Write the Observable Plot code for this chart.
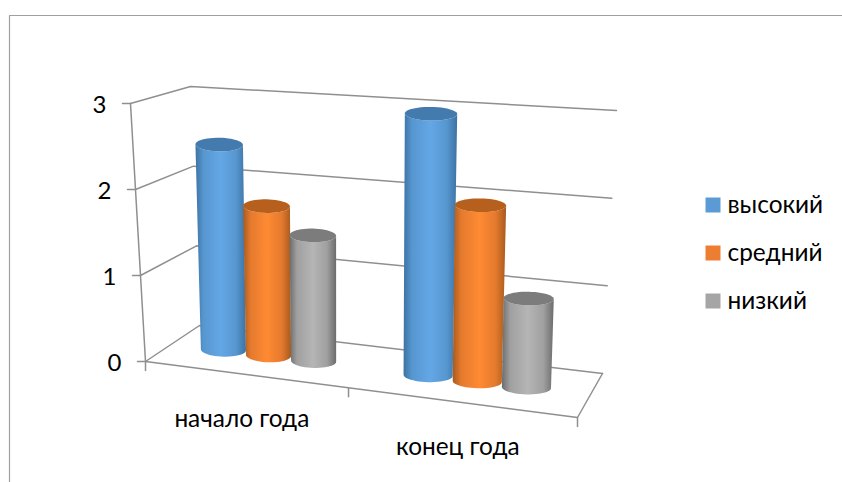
<!DOCTYPE html>
<html><head><meta charset="utf-8">
<style>html,body{margin:0;padding:0;background:#fff}svg{display:block}</style>
<script src="https://cdn.jsdelivr.net/npm/d3@7"></script>
<script src="https://cdn.jsdelivr.net/npm/@observablehq/plot@0.6"></script>
</head><body><script>
const categories = ["начало года", "конец года"];
const series = ["высокий", "средний", "низкий"];
const high = [2.5, 3];
const medium = [1.8, 2];
const low = [1.5, 1];
const seriesValues = [high, medium, low];
const valueTicks = [0, 1, 2, 3];
const swatch = ["#5b9bd5", "#ed7d31", "#a5a5a5"];
const shade = [
  {edge: "#3c72a3", mid: "#5797d0", light: "#63a7e6", cap: "#437bae"},
  {edge: "#a85a1e", mid: "#e57a2e", light: "#ff8a33", cap: "#b7601d"},
  {edge: "#6c6c6c", mid: "#a0a0a0", light: "#b5b5b5", cap: "#7c7c7c"}
];

// the 3D box of the chart: corners [left/right][front/back][floor/top]
const box = {
  fl: [[145, 361], [130, 103]], bl: [[199, 325], [190, 86]],
  fr: [[577, 417], [594, 136]], br: [[602, 373], [616, 110]]
};
const mix = (a, b, t) => [a[0] + (b[0] - a[0]) * t, a[1] + (b[1] - a[1]) * t];
const vScale = d3.scaleLinear([0, 3], [0, 1]);
const bandCenters = [0.23, 0.73];
const xTickU = [0, 0.47, 1];
const groupScale = [1, 1.09];
const heightScale = [0.98, 0.995];
function project(u, d, v) {
  const t = vScale(v);
  const left = mix(mix(box.fl[0], box.bl[0], d), mix(box.fl[1], box.bl[1], d), t);
  const right = mix(mix(box.fr[0], box.br[0], d), mix(box.fr[1], box.br[1], d), t);
  return mix(left, right, u);
}

const wire = [];
const pushPath = (id, pts) => pts.forEach(([x, y]) => wire.push({id, x, y}));
valueTicks.forEach((v) => {
  pushPath("wall" + v, [project(0, 0, v), project(0, 1, v), project(1, 1, v)]);
  const p = project(0, 0, v);
  pushPath("tick" + v, [p, [p[0] - 8, p[1]]]);
});
pushPath("front", [project(0, 0, 0), project(1, 0, 0), project(1, 1, 0)]);
pushPath("axis", [project(0, 0, 0), project(0, 0, 3)]);
xTickU.forEach((u, c) => {
  const p = project(u, 0, 0);
  pushPath("xt" + c, [p, [p[0], p[1] + 9]]);
});

const frame = [{id: "f", x: 9, y: 482}, {id: "f", x: 9, y: 15}, {id: "f", x: 842, y: 15}];

// cylinders
const step = 0.108, radius = 0.054, ry = 6.8, tilt = 0.2, depth = 0.5, lean = 0.6;
const bodies = [], caps = [];
const thetas = d3.range(0, 49).map((i) => (i / 48) * 2 * Math.PI);
const ring = (u, v, r) => {
  const a = project(u - r, depth, v), b = project(u + r, depth, v);
  const c = mix(a, b, 0.5), A = [(b[0] - a[0]) / 2, ((b[1] - a[1]) / 2) * tilt];
  const baseX = project(u, depth, 0)[0];
  const cx = baseX + (c[0] - baseX) * lean;
  return (th) => [cx + Math.cos(th) * A[0], c[1] + Math.cos(th) * A[1] + Math.sin(th) * ry];
};
categories.forEach((cat, c) => {
  series.forEach((s, i) => {
    const u = bandCenters[c] + (i - 1) * step * groupScale[c];
    const r = radius * groupScale[c];
    const val = seriesValues[i][c] * heightScale[c];
    const id = cat + s;
    const base = ring(u, 0, r), top = ring(u, val, r);
    thetas.slice(0, 25).forEach((th) => { const [x, y] = base(th); bodies.push({id, s: i, x, y}); });
    thetas.slice(24, 49).forEach((th) => {
      const [x, y] = top(2 * Math.PI - th); bodies.push({id, s: i, x, y});
    });
    thetas.forEach((th) => { const [x, y] = top(th); caps.push({id, s: i, x, y}); });
  });
});

const defs = () => {
  const g = d3.create("svg:defs");
  shade.forEach((c, i) => {
    const lg = g.append("linearGradient").attr("id", "cyl" + i)
      .attr("x1", 0).attr("x2", 1).attr("y1", 0).attr("y2", 0);
    [[0, c.edge], [0.16, c.mid], [0.5, c.light], [0.8, c.mid], [1, c.edge]].forEach(([o, col]) =>
      lg.append("stop").attr("offset", o).attr("stop-color", col));
  });
  return g.node();
};

const lineColor = "#8f8f8f";
const cylMarks = [];
categories.forEach((cat, c) => series.forEach((s, i) => {
  const id = cat + s;
  cylMarks.push(
    Plot.line(bodies.filter((d) => d.id === id), {x: "x", y: "y", fill: `url(#cyl${i})`, stroke: "none", curve: "linear"}),
    Plot.line(caps.filter((d) => d.id === id), {x: "x", y: "y", fill: shade[i].cap, stroke: "none", curve: "linear"})
  );
}));

const legendX = 712.5, legendY = [204.5, 252.5, 300.5];
const font = "Lato, 'Open Sans', sans-serif";

const chart = Plot.plot({
  width: 842, height: 482,
  marginTop: 0, marginRight: 0, marginBottom: 0, marginLeft: 0,
  style: {background: "#fff", fontFamily: font, overflow: "visible"},
  x: {type: "identity", axis: null}, y: {type: "identity", axis: null},
  color: {domain: series, range: swatch},
  marks: [
    defs,
    Plot.line(frame, {x: "x", y: "y", stroke: "#a0a0a0", strokeWidth: 1.2}),
    Plot.line(wire, {x: "x", y: "y", z: "id", stroke: lineColor, strokeWidth: 1.5, curve: "linear"}),
    ...cylMarks,
    Plot.text(valueTicks, {
      x: (v) => project(0, 0, v)[0] - 31, y: (v) => project(0, 0, v)[1] + 2,
      text: (v) => String(v), fontSize: 24, fill: "#000", textAnchor: "middle"
    }),
    Plot.text(categories, {
      x: (d, i) => project(bandCenters[i], 0, 0)[0] - 3,
      y: (d, i) => project(bandCenters[i], 0, 0)[1] + 45,
      text: (d) => d, fontSize: 24.4, fill: "#000", textAnchor: "middle"
    }),
    Plot.dot(series, {
      x: () => legendX, y: (d, i) => legendY[i], fill: (d) => d, stroke: "none",
      symbol: "square", r: 8.46
    }),
    Plot.text(series, {
      x: () => 727, y: (d, i) => legendY[i], text: (d) => d,
      fontSize: 24.4, fill: "#000", textAnchor: "start"
    })
  ]
});
document.body.appendChild(chart);
</script></body></html>
